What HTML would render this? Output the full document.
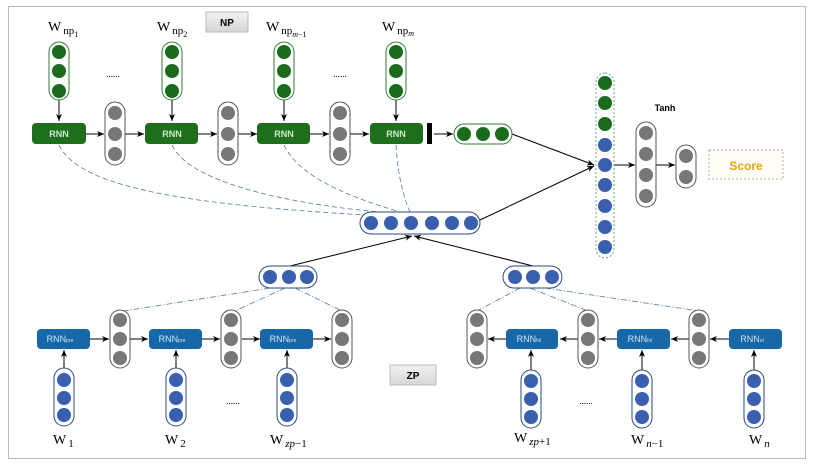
<!DOCTYPE html>
<html><head><meta charset="utf-8"><style>body{margin:0;background:#fff}svg{display:block}</style></head><body>
<svg width="816" height="465" viewBox="0 0 816 465" xmlns="http://www.w3.org/2000/svg" font-family="Liberation Serif, serif">
<defs>
<marker id="a" markerWidth="8" markerHeight="8" refX="7" refY="4" orient="auto" markerUnits="userSpaceOnUse"><path d="M0,1 L7,4 L0,7 L2,4Z" fill="#000"/></marker>
<linearGradient id="bx" x1="0" y1="0" x2="0" y2="1"><stop offset="0" stop-color="#f2f2f2"/><stop offset="1" stop-color="#d6d6d6"/></linearGradient>
</defs>
<rect x="8.5" y="6.5" width="797" height="452" fill="#fff" stroke="#bbb"/>
<!-- NP label -->
<rect x="206" y="12" width="42" height="20" fill="url(#bx)" stroke="#bbb"/>
<text x="227" y="26" font-family="Liberation Sans" font-size="10" font-weight="bold" text-anchor="middle">NP</text>
<rect x="390" y="365" width="46" height="20" fill="url(#bx)" stroke="#bbb"/>
<text x="413" y="379" font-family="Liberation Sans" font-size="10" font-weight="bold" text-anchor="middle">ZP</text>
<g id="np">
</g>
<!-- dashed curves -->
<g fill="none" stroke="#5577aa" stroke-width="0.8" stroke-dasharray="5,3">
<path d="M59,145 C80,190 200,205 365,215"/>
<path d="M172,145 C190,185 300,205 380,212"/>
<path d="M284,145 C300,180 360,200 400,212"/>
<path d="M396,145 C398,180 405,200 410,212"/>
</g>
<g fill="none" stroke="#5577aa" stroke-width="0.8" stroke-dasharray="6,2,1,2">
<path d="M270,288 L124,311"/><path d="M285,288 L235,311"/><path d="M295,288 L342,311"/>
<path d="M520,288 L477,311"/><path d="M530,288 L588,311"/><path d="M545,288 L699,311"/>
</g>
<!-- NP columns -->
<g stroke="#000" stroke-width="1">
<line x1="59" y1="100" x2="59" y2="121" marker-end="url(#a)"/>
<line x1="172" y1="100" x2="172" y2="121" marker-end="url(#a)"/>
<line x1="284" y1="100" x2="284" y2="121" marker-end="url(#a)"/>
<line x1="396" y1="100" x2="396" y2="121" marker-end="url(#a)"/>
<line x1="86" y1="134" x2="104" y2="134" marker-end="url(#a)"/>
<line x1="125" y1="134" x2="144" y2="134" marker-end="url(#a)"/>
<line x1="198" y1="134" x2="217" y2="134" marker-end="url(#a)"/>
<line x1="238" y1="134" x2="257" y2="134" marker-end="url(#a)"/>
<line x1="310" y1="134" x2="329" y2="134" marker-end="url(#a)"/>
<line x1="350" y1="134" x2="369" y2="134" marker-end="url(#a)"/>
<line x1="434" y1="134" x2="453" y2="134" marker-end="url(#a)"/>
<line x1="512" y1="134" x2="594" y2="165" marker-end="url(#a)"/>
<line x1="480" y1="220" x2="594" y2="166" marker-end="url(#a)"/>
<line x1="614" y1="165" x2="635" y2="165" marker-end="url(#a)"/>
<line x1="656" y1="165" x2="675" y2="165" marker-end="url(#a)"/>
<line x1="290" y1="266" x2="412" y2="236" marker-end="url(#a)"/>
<line x1="533" y1="266" x2="414" y2="236" marker-end="url(#a)"/>
<!-- ZP arrows -->
<line x1="64" y1="368" x2="64" y2="350" marker-end="url(#a)"/>
<line x1="176" y1="368" x2="176" y2="350" marker-end="url(#a)"/>
<line x1="287" y1="368" x2="287" y2="350" marker-end="url(#a)"/>
<line x1="90" y1="339" x2="109" y2="339" marker-end="url(#a)"/>
<line x1="130" y1="339" x2="148" y2="339" marker-end="url(#a)"/>
<line x1="202" y1="339" x2="220" y2="339" marker-end="url(#a)"/>
<line x1="242" y1="339" x2="260" y2="339" marker-end="url(#a)"/>
<line x1="313" y1="339" x2="331" y2="339" marker-end="url(#a)"/>
<line x1="531" y1="370" x2="531" y2="350" marker-end="url(#a)"/>
<line x1="642" y1="370" x2="642" y2="350" marker-end="url(#a)"/>
<line x1="754" y1="370" x2="754" y2="350" marker-end="url(#a)"/>
<line x1="506" y1="339" x2="488" y2="339" marker-end="url(#a)"/>
<line x1="578" y1="339" x2="560" y2="339" marker-end="url(#a)"/>
<line x1="617" y1="339" x2="599" y2="339" marker-end="url(#a)"/>
<line x1="689" y1="339" x2="671" y2="339" marker-end="url(#a)"/>
<line x1="729" y1="339" x2="710" y2="339" marker-end="url(#a)"/>
</g>
<rect x="427" y="123" width="5" height="21" fill="#000"/>
<!-- green input cols -->
<g fill="#fff" stroke="#2e7d32"><rect x="49" y="42" width="20" height="58" rx="10"/><rect x="162" y="42" width="20" height="58" rx="10"/><rect x="274" y="42" width="20" height="58" rx="10"/><rect x="386" y="42" width="20" height="58" rx="10"/><rect x="454" y="124" width="58" height="20" rx="10"/></g>
<g fill="#1b6b1f">
<circle cx="59" cy="52" r="7"/><circle cx="59" cy="71" r="7"/><circle cx="59" cy="91" r="7"/>
<circle cx="172" cy="52" r="7"/><circle cx="172" cy="71" r="7"/><circle cx="172" cy="91" r="7"/>
<circle cx="284" cy="52" r="7"/><circle cx="284" cy="71" r="7"/><circle cx="284" cy="91" r="7"/>
<circle cx="396" cy="52" r="7"/><circle cx="396" cy="71" r="7"/><circle cx="396" cy="91" r="7"/>
<circle cx="464" cy="134" r="7"/><circle cx="483" cy="134" r="7"/><circle cx="502" cy="134" r="7"/>
</g>
<!-- gray cols -->
<g fill="#fff" stroke="#555"><rect x="105" y="102" width="20" height="63" rx="10"/><rect x="218" y="102" width="20" height="63" rx="10"/><rect x="330" y="102" width="20" height="63" rx="10"/>
<rect x="636" y="122" width="20" height="85" rx="10"/><rect x="676" y="145" width="20" height="43" rx="10"/>
<rect x="110" y="310" width="20" height="58" rx="10"/><rect x="221" y="310" width="20" height="58" rx="10"/><rect x="332" y="310" width="20" height="58" rx="10"/>
<rect x="467" y="310" width="20" height="58" rx="10"/><rect x="578" y="310" width="20" height="58" rx="10"/><rect x="689" y="310" width="20" height="58" rx="10"/></g>
<g fill="#777">
<circle cx="115" cy="113" r="7"/><circle cx="115" cy="134" r="7"/><circle cx="115" cy="154" r="7"/>
<circle cx="228" cy="113" r="7"/><circle cx="228" cy="134" r="7"/><circle cx="228" cy="154" r="7"/>
<circle cx="340" cy="113" r="7"/><circle cx="340" cy="134" r="7"/><circle cx="340" cy="154" r="7"/>
<circle cx="646" cy="133" r="7"/><circle cx="646" cy="154" r="7"/><circle cx="646" cy="175" r="7"/><circle cx="646" cy="196" r="7"/>
<circle cx="686" cy="156" r="7"/><circle cx="686" cy="177" r="7"/>
<circle cx="120" cy="320" r="7"/><circle cx="120" cy="339" r="7"/><circle cx="120" cy="358" r="7"/>
<circle cx="231" cy="320" r="7"/><circle cx="231" cy="339" r="7"/><circle cx="231" cy="358" r="7"/>
<circle cx="342" cy="320" r="7"/><circle cx="342" cy="339" r="7"/><circle cx="342" cy="358" r="7"/>
<circle cx="477" cy="320" r="7"/><circle cx="477" cy="339" r="7"/><circle cx="477" cy="358" r="7"/>
<circle cx="588" cy="320" r="7"/><circle cx="588" cy="339" r="7"/><circle cx="588" cy="358" r="7"/>
<circle cx="699" cy="320" r="7"/><circle cx="699" cy="339" r="7"/><circle cx="699" cy="358" r="7"/>
</g>
<!-- blue containers -->
<g fill="#fff" stroke="#2a4a80"><rect x="360" y="212" width="120" height="22" rx="11"/><rect x="259" y="266" width="58" height="22" rx="11"/><rect x="503" y="266" width="59" height="22" rx="11"/>
<rect x="54" y="368" width="20" height="58" rx="10"/><rect x="166" y="368" width="20" height="58" rx="10"/><rect x="277" y="368" width="20" height="58" rx="10"/>
<rect x="521" y="370" width="20" height="58" rx="10"/><rect x="632" y="370" width="20" height="58" rx="10"/><rect x="744" y="370" width="20" height="58" rx="10"/></g>
<rect x="596" y="73" width="18" height="185" rx="9" fill="#fff" stroke="#6a8" stroke-dasharray="2,2"/>
<g fill="#1b6b1f"><circle cx="605" cy="83" r="7"/><circle cx="605" cy="103" r="7"/><circle cx="605" cy="124" r="7"/></g>
<g fill="#3a5fae">
<circle cx="605" cy="145" r="7"/><circle cx="605" cy="165" r="7"/><circle cx="605" cy="185" r="7"/><circle cx="605" cy="206" r="7"/><circle cx="605" cy="227" r="7"/><circle cx="605" cy="247" r="7"/>
<circle cx="371" cy="223" r="7"/><circle cx="391" cy="223" r="7"/><circle cx="411" cy="223" r="7"/><circle cx="432" cy="223" r="7"/><circle cx="452" cy="223" r="7"/><circle cx="471" cy="223" r="7"/>
<circle cx="270" cy="277" r="7"/><circle cx="289" cy="277" r="7"/><circle cx="307" cy="277" r="7"/>
<circle cx="515" cy="277" r="7"/><circle cx="533" cy="277" r="7"/><circle cx="552" cy="277" r="7"/>
<circle cx="64" cy="380" r="7"/><circle cx="64" cy="398" r="7"/><circle cx="64" cy="415" r="7"/>
<circle cx="176" cy="380" r="7"/><circle cx="176" cy="398" r="7"/><circle cx="176" cy="415" r="7"/>
<circle cx="287" cy="380" r="7"/><circle cx="287" cy="398" r="7"/><circle cx="287" cy="415" r="7"/>
<circle cx="531" cy="381" r="7"/><circle cx="531" cy="399" r="7"/><circle cx="531" cy="417" r="7"/>
<circle cx="642" cy="381" r="7"/><circle cx="642" cy="399" r="7"/><circle cx="642" cy="417" r="7"/>
<circle cx="754" cy="381" r="7"/><circle cx="754" cy="399" r="7"/><circle cx="754" cy="417" r="7"/>
</g>
<!-- RNN boxes -->
<g fill="#1e6e1e"><rect x="32" y="123" width="54" height="21" rx="4"/><rect x="145" y="123" width="53" height="21" rx="4"/><rect x="257" y="123" width="53" height="21" rx="4"/><rect x="370" y="123" width="53" height="21" rx="4"/></g>
<g font-family="Liberation Sans" font-size="9" font-weight="bold" fill="#cfe8cf" text-anchor="middle"><text x="59" y="137">RNN</text><text x="172" y="137">RNN</text><text x="284" y="137">RNN</text><text x="396" y="137">RNN</text></g>
<g fill="#1668a8"><rect x="37" y="329" width="53" height="20" rx="4"/><rect x="149" y="329" width="53" height="20" rx="4"/><rect x="260" y="329" width="53" height="20" rx="4"/>
<rect x="506" y="329" width="52" height="20" rx="4"/><rect x="617" y="329" width="53" height="20" rx="4"/><rect x="729" y="329" width="53" height="20" rx="4"/></g>
<g font-family="Liberation Sans" font-size="9" fill="#d0e4f7" text-anchor="middle">
<text x="60" y="342">RNN<tspan font-size="5">pre</tspan></text><text x="172" y="342">RNN<tspan font-size="5">pre</tspan></text><text x="283" y="342">RNN<tspan font-size="5">pre</tspan></text>
<text x="529" y="342">RNN<tspan font-size="5">fol</tspan></text><text x="640" y="342">RNN<tspan font-size="5">fol</tspan></text><text x="752" y="342">RNN<tspan font-size="5">ol</tspan></text></g>
<!-- labels -->
<g font-size="14" fill="#000">
<text x="48" y="31">W<tspan font-size="11" dx="2" dy="3">np</tspan><tspan font-size="8" dy="3">1</tspan></text>
<text x="157" y="31">W<tspan font-size="11" dx="2" dy="3">np</tspan><tspan font-size="8" dy="3">2</tspan></text>
<text x="266" y="31">W<tspan font-size="11" dx="2" dy="3">np</tspan><tspan font-size="8" dy="3" font-style="italic">m</tspan><tspan font-size="8">−1</tspan></text>
<text x="382" y="31">W<tspan font-size="11" dx="2" dy="3">np</tspan><tspan font-size="8" dy="2" font-style="italic">m</tspan></text>
<text x="53" y="444">W<tspan font-size="11" dx="2" dy="3">1</tspan></text>
<text x="165" y="444">W<tspan font-size="11" dx="2" dy="3">2</tspan></text>
<text x="270" y="444">W<tspan font-size="11" dx="2" dy="3" font-style="italic">zp</tspan><tspan font-size="11">−1</tspan></text>
<text x="514" y="442">W<tspan font-size="11" dx="2" dy="3" font-style="italic">zp</tspan><tspan font-size="11">+1</tspan></text>
<text x="631" y="444">W<tspan font-size="11" dx="2" dy="3" font-style="italic">n</tspan><tspan font-size="11">−1</tspan></text>
<text x="749" y="444">W<tspan font-size="11" dx="2" dy="3" font-style="italic">n</tspan></text>
</g>
<g font-size="9" fill="#000" text-anchor="middle"><text x="113" y="77">......</text><text x="340" y="77">......</text><text x="233" y="404">......</text><text x="586" y="404">......</text></g>
<text x="665" y="111" font-family="Liberation Sans" font-size="9" font-weight="bold" text-anchor="middle">Tanh</text>
<rect x="709" y="150" width="74" height="29" fill="#fffdf6" stroke="#aaa" stroke-dasharray="2,2"/>
<text x="746" y="170" font-family="Liberation Sans" font-size="12" font-weight="bold" fill="#e8a317" text-anchor="middle">Score</text>
</svg>
</body></html>
